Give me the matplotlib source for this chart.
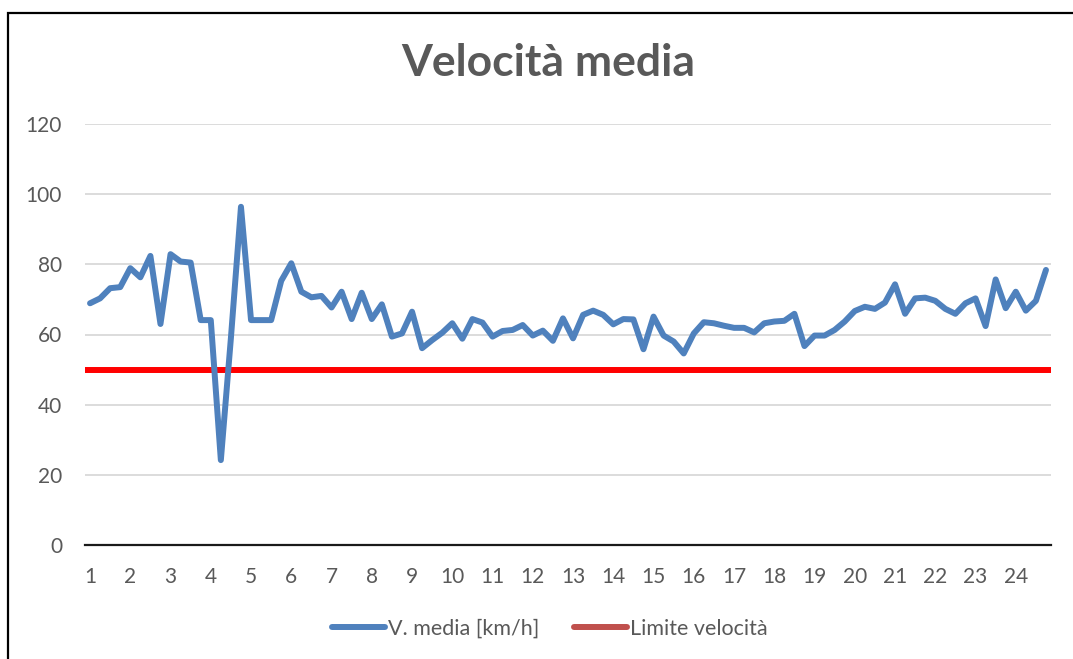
import numpy as np
import matplotlib
matplotlib.use("Agg")
import matplotlib.pyplot as plt
from matplotlib.lines import Line2D
from matplotlib.patches import Rectangle

plt.rcParams['font.family'] = ['Lato', 'DejaVu Sans']

# velocità media ogni 15 minuti (4 punti per ora)
v_media = [68.9, 70.3, 73.2, 73.5, 78.9, 76.3, 82.4, 63.0, 82.9, 80.8,
           80.5, 64.1, 64.1, 24.2, 59.0, 96.4, 64.1, 64.1, 64.1, 75.3,
           80.3, 72.2, 70.6, 71.0, 67.7, 72.2, 64.4, 71.9, 64.4, 68.6,
           59.4, 60.3, 66.5, 56.1, 58.4, 60.5, 63.2, 58.8, 64.4, 63.4,
           59.4, 61.0, 61.3, 62.7, 59.7, 61.1, 58.2, 64.6, 58.9, 65.6,
           66.8, 65.6, 62.9, 64.4, 64.3, 55.8, 65.1, 59.7, 58.0, 54.6,
           60.3, 63.5, 63.2, 62.5, 61.9, 61.9, 60.6, 63.2, 63.7, 63.9,
           65.9, 56.7, 59.7, 59.7, 61.3, 63.7, 66.7, 67.9, 67.3, 69.1,
           74.3, 65.9, 70.3, 70.5, 69.6, 67.3, 65.9, 68.9, 70.3, 62.4,
           75.7, 67.5, 72.2, 66.8, 69.6, 78.4]
limite = 50
ore = list(range(1, 25))

blu = "#4F81BD"
rosso = "#FF0000"
rosso_leg = "#C0504D"
grigio = "#595959"

fig = plt.figure(figsize=(10.73, 6.59), dpi=100)
ax = fig.add_axes([85/1073, 114/659, 966/1073, 421/659])

x = np.arange(len(v_media))
ax.axhline(limite, color=rosso, lw=4.3, zorder=3)
ax.plot(x, v_media, color=blu, lw=4.3, solid_joinstyle="round", solid_capstyle="round", zorder=4)

ax.set_xlim(-0.5, 95.5)
ax.set_ylim(0, 120)
ax.set_yticks(range(0, 121, 20))
ax.set_xticks(np.arange(0, 96, 4))
ax.set_xticklabels([str(h) for h in ore])
ax.grid(axis="y", color="#D9D9D9", lw=1.3)
ax.set_axisbelow(True)
for s in ["top", "right", "left"]:
    ax.spines[s].set_visible(False)
ax.spines["bottom"].set_color("#1a1a1a")
ax.spines["bottom"].set_linewidth(1.6)
ax.tick_params(axis="both", length=0, labelsize=15, labelcolor=grigio)
ax.tick_params(axis="y", pad=16.5)
ax.tick_params(axis="x", pad=16)

fig.text(548/1073, 1 - 63/659, "Velocità media", ha="center", va="center",
         fontsize=32, fontweight="bold", color=grigio)

handles = [Line2D([0], [0], color=blu, lw=4.3, solid_capstyle="round"),
           Line2D([0], [0], color=rosso_leg, lw=4.3, solid_capstyle="round")]
fig.legend(handles, ["V. media [km/h]", "Limite velocità"], loc="center",
           bbox_to_anchor=(550/1073, 1 - 629/659), ncol=2, frameon=False,
           fontsize=15.5, labelcolor=grigio, handlelength=2.45, handletextpad=0.15,
           columnspacing=1.6)

# cornice del grafico (tagliata a destra e in basso)
fig.patches.append(Rectangle((8/1073, -0.1), 1.2, 1 - 13/659 + 0.1,
                             transform=fig.transFigure, fill=False,
                             edgecolor="black", lw=1.6))

plt.savefig("out.png", dpi=100)
